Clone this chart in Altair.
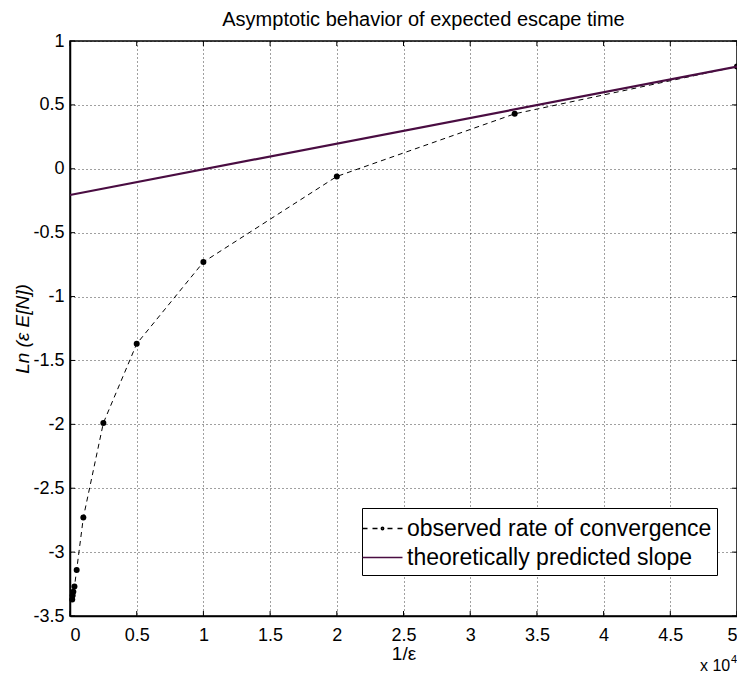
import altair as alt
import pandas as pd

# observed rate of convergence (x in units of 10^4)
obs_x = [5.0, 3.3333, 2.0, 1.0, 0.5, 0.25, 0.1, 0.05, 0.0333, 0.025, 0.02, 0.0167]
obs_y = [0.80, 0.43, -0.06, -0.73, -1.37, -1.99, -2.73, -3.14, -3.27, -3.31, -3.34, -3.37]

# theoretically predicted slope
th_x = [0.0, 5.0]
th_y = [-0.205, 0.80]

series_names = ["observed rate of convergence", "theoretically predicted slope"]
series_colors = ["#000000", "#4a0d42"]
series_shapes = [
    "M-1.4,0H-1.05M-0.7,0H-0.35M0.35,0H0.7M1.05,0H1.4M-0.08,0A0.08,0.08,0,1,1,0.08,0A0.08,0.08,0,1,1,-0.08,0Z",
    "M-1.4,0H1.4",
]

x_ticks = [0, 0.5, 1, 1.5, 2, 2.5, 3, 3.5, 4, 4.5, 5]
y_ticks = [-3.5, -3, -2.5, -2, -1.5, -1, -0.5, 0, 0.5, 1]

FONT = "Liberation Sans"
W, H = 667, 575
TL = 5  # inward tick length

obs_df = pd.DataFrame({"x": obs_x, "y": obs_y})
th_df = pd.DataFrame({"x": th_x, "y": th_y})
legend_df = pd.DataFrame({"series": series_names, "x": [None, None], "y": [None, None]})
xt_df = pd.DataFrame({"x": x_ticks})
yt_df = pd.DataFrame({"y": y_ticks})

xscale = alt.Scale(domain=[0, 5], nice=False, zero=False)
yscale = alt.Scale(domain=[-3.5, 1], nice=False, zero=False)

xaxis = alt.Axis(values=x_ticks, labelExpr="'' + datum.value", title="1/ε",
                 grid=True, tickSize=0, labelPadding=10,
                 titleBaseline="top", titleY=28)
yaxis = alt.Axis(values=y_ticks, labelExpr="'' + datum.value", title="Ln (ε E[N])",
                 grid=True, tickSize=0, labelPadding=6, titlePadding=0,
                 titleFontStyle="italic")

X = alt.X("x:Q", scale=xscale, axis=xaxis)
Y = alt.Y("y:Q", scale=yscale, axis=yaxis)

obs_line = alt.Chart(obs_df).mark_line(
    color="black", strokeWidth=1, strokeDash=[5, 4]
).encode(x=X, y=Y, order="x:Q")

obs_pts = alt.Chart(obs_df).mark_circle(color="black", size=36, opacity=1).encode(x=X, y=Y)

th_line = alt.Chart(th_df).mark_line(color=series_colors[1], strokeWidth=2.2).encode(x=X, y=Y)

# inward ticks on all four sides of the box
tick_bottom = alt.Chart(xt_df).mark_tick(orient="vertical", size=TL, thickness=1, color="black", opacity=1).encode(
    x=X, y=alt.value(H - TL / 2))
tick_top = alt.Chart(xt_df).mark_tick(orient="vertical", size=TL, thickness=1, color="black", opacity=1).encode(
    x=X, y=alt.value(TL / 2))
tick_left = alt.Chart(yt_df).mark_tick(orient="horizontal", size=TL, thickness=1, color="black", opacity=1).encode(
    y=Y, x=alt.value(TL / 2))
tick_right = alt.Chart(yt_df).mark_tick(orient="horizontal", size=TL, thickness=1, color="black", opacity=1).encode(
    y=Y, x=alt.value(W - TL / 2))

legend_layer = alt.Chart(legend_df).mark_point(filled=False, opacity=1).encode(
    x=X, y=Y,
    color=alt.Color("series:N", scale=alt.Scale(domain=series_names, range=series_colors),
                    legend=alt.Legend(title=None, orient="none", legendX=292, legendY=467,
                                      strokeColor="black", fillColor="white", padding=5,
                                      labelFontSize=23, labelFont=FONT, labelColor="black",
                                      symbolSize=816, symbolStrokeWidth=1.6,
                                      labelOffset=9, rowPadding=1, labelLimit=500)),
    shape=alt.Shape("series:N", scale=alt.Scale(domain=series_names, range=series_shapes),
                    legend=alt.Legend(title=None, orient="none", legendX=292, legendY=467)),
)

x10 = alt.Chart(alt.Data(values=[{}])).mark_text(
    text="x 10", fontSize=16, font=FONT, align="left", baseline="alphabetic", color="black"
).encode(x=alt.value(630), y=alt.value(630))
sup4 = alt.Chart(alt.Data(values=[{}])).mark_text(
    text="4", fontSize=11, font=FONT, align="left", baseline="alphabetic", color="black"
).encode(x=alt.value(661), y=alt.value(622))

chart = alt.layer(obs_line, obs_pts, th_line, tick_bottom, tick_top, tick_left, tick_right,
                  legend_layer, x10, sup4).properties(
    width=W, height=H,
    title=alt.TitleParams("Asymptotic behavior of expected escape time", fontSize=20,
                          font=FONT, fontWeight="normal", color="black",
                          anchor="middle", frame="group", dx=20, offset=2),
    padding={"left": 62, "top": 33, "right": 0, "bottom": 58},
    autosize=alt.AutoSizeParams(type="none"),
).configure_view(
    stroke="black", strokeWidth=1.5
).configure_axis(
    labelFont=FONT, titleFont=FONT, labelFontSize=18, titleFontSize=19,
    labelColor="black", titleColor="black", titleFontWeight="normal",
    domainColor="black", domainWidth=1.5,
    gridColor="black", gridOpacity=0.75, gridDash=[1, 3], gridWidth=1,
)

chart.save("out.html", embed_options={"renderer": "svg", "actions": False})
